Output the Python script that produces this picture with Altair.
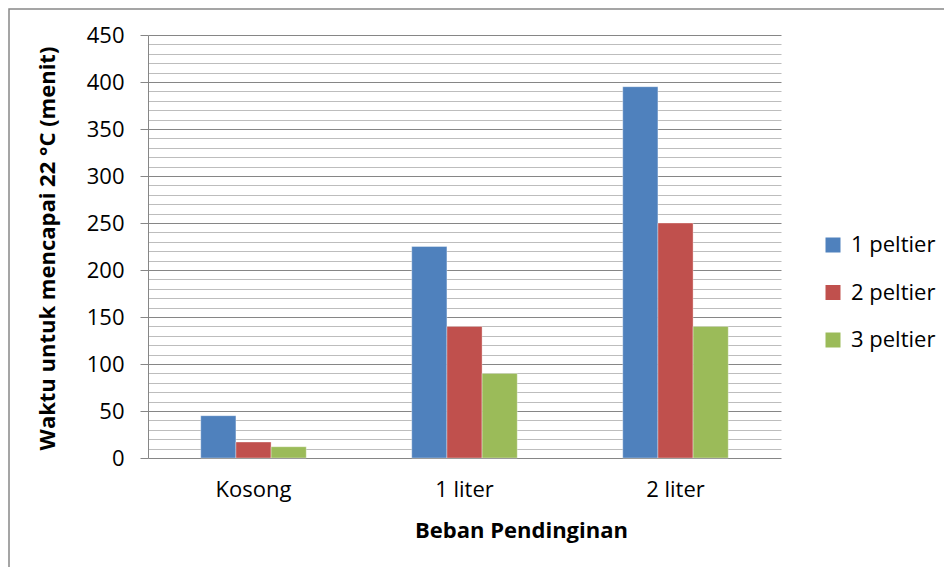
import altair as alt
import pandas as pd

categories = ["Kosong", "1 liter", "2 liter"]
series = ["1 peltier", "2 peltier", "3 peltier"]
values_1 = [45, 225, 395]
values_2 = [17, 140, 250]
values_3 = [12, 90, 140]
colors = ["#4F81BD", "#C0504D", "#9BBB59"]
y_ticks = list(range(0, 451, 10))

rows = []
for s, vals in zip(series, [values_1, values_2, values_3]):
    for c, v in zip(categories, vals):
        rows.append({"Beban": c, "Seri": s, "Waktu": v})
df = pd.DataFrame(rows)

FONT = "Open Sans"
W, H = 633, 423

bars = alt.Chart(df).mark_bar(stroke="#ffffff", strokeOpacity=0.35, strokeWidth=1).encode(
    x=alt.X("Beban:N", sort=categories,
            scale=alt.Scale(paddingInner=0.5, paddingOuter=0.25),
            axis=alt.Axis(title="Beban Pendinginan", labelAngle=0, ticks=False, domain=False,
                          labelFont=FONT, labelFontSize=22, labelColor="#000000",
                          labelPadding=21, titleFont=FONT, titleFontSize=22,
                          titleFontWeight="bold", titleColor="#000000", titlePadding=20,
                          titleX=373, titleAlign="center")),
    xOffset=alt.XOffset("Seri:N", sort=series),
    y=alt.Y("Waktu:Q", scale=alt.Scale(domain=[0, 450], nice=False),
            axis=alt.Axis(values=y_ticks, title="Waktu untuk mencapai 22 °C (menit)",
                          labelExpr="datum.value % 50 === 0 ? datum.label : ''",
                          gridColor=alt.condition("datum.value % 50 === 0", alt.value("#868686"), alt.value("#BDBDBD")),
                          tickColor=alt.condition("datum.value % 50 === 0", alt.value("#868686"), alt.value("transparent")),
                          tickSize=8, domainColor="#868686", labelFont=FONT, labelFontSize=22,
                          labelColor="#000000", labelPadding=16,
                          titleFont=FONT, titleFontSize=22, titleFontWeight="bold",
                          titleColor="#000000", titlePadding=27, titleY=213, titleAlign="center")),
    color=alt.Color("Seri:N", sort=series, scale=alt.Scale(domain=series, range=colors),
                    legend=alt.Legend(title=None, orient="none", legendX=674, legendY=199,
                                      symbolType="square", symbolSize=225, symbolStrokeWidth=0,
                                      labelFont=FONT, labelFontSize=22, labelColor="#000000",
                                      rowPadding=25.5, labelOffset=7)),
)

frame = alt.Chart(alt.Data(values=[{}])).mark_rect(fill=None, stroke="#888888", strokeWidth=1.5, clip=False).encode(
    x=alt.value(-139), x2=alt.value(1200), y=alt.value(-26), y2=alt.value(1200)
)

chart = alt.layer(frame, bars).properties(
    width=W, height=H,
    autosize=alt.AutoSizeParams(type="none"),
    padding={"left": 140, "top": 27, "right": 163, "bottom": 109},
).configure_view(stroke=None)

chart.save("out.html", embed_options={"renderer": "svg", "actions": False})
